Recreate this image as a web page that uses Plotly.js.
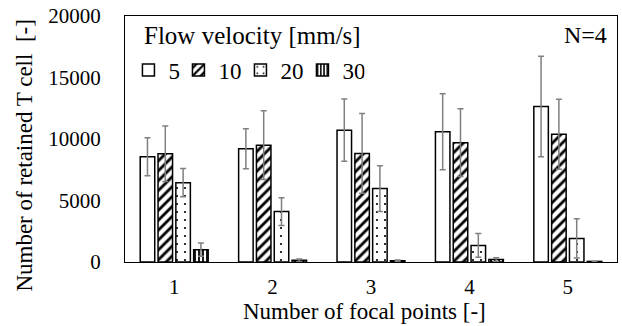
<!DOCTYPE html>
<html>
<head>
<meta charset="utf-8">
<script src="https://cdn.plot.ly/plotly-3.0.1.min.js"></script>
<style>html,body{margin:0;padding:0;background:#fff;}#chart{width:622px;height:326px;}</style>
</head>
<body>
<div id="chart"></div>
<script>
// Data
const categories = ['1', '2', '3', '4', '5'];
const seriesNames = ['5', '10', '20', '30'];
const v5  = [8560, 9210, 10720, 10590, 12640];
const e5  = [1550, 1630, 2530, 3080, 4090];
const v10 = [8800, 9500, 8830, 9700, 10390];
const e10 = [2250, 2800, 3240, 2750, 2850];
const v20 = [6450, 4100, 5970, 1350, 1920];
const e20 = [1150, 1130, 1860, 960, 1600];
const v30 = [1000, 150, 100, 200, 50];
const e30 = [540, 100, 60, 150, 0];

const FONT = 'Liberation Serif, Times New Roman, serif';

const patterns = [
  {shape: ''},
  {shape: '/', fgcolor: '#000', bgcolor: '#fff', size: 7, solidity: 0.4},
  {shape: '.', fgcolor: '#000', bgcolor: '#fff', size: 8, solidity: 0.06},
  {shape: '|', fgcolor: '#000', bgcolor: '#fff', size: 4, solidity: 0.45}
];
const legendWidths = [5, 17, 17, 17];
const vals = [v5, v10, v20, v30];
const errs = [e5, e10, e20, e30];

const traces = vals.map((v, i) => ({
  type: 'bar',
  name: seriesNames[i],
  x: categories,
  y: v,
  legendwidth: legendWidths[i],
  error_y: {type: 'data', array: errs[i], visible: true, color: '#808080', thickness: 1.5, width: 3},
  marker: {color: '#fff', line: {color: '#000', width: 1.5}, pattern: patterns[i]}
}));

const layout = {
  width: 622, height: 326,
  margin: {l: 125, r: 5, t: 16, b: 64},
  paper_bgcolor: '#fff', plot_bgcolor: '#fff',
  font: {family: FONT, size: 21, color: '#000'},
  barmode: 'group',
  bargap: 0.276,
  bargroupgap: 0.185,
  showlegend: true,
  legend: {
    orientation: 'h',
    x: 0.007, xanchor: 'left',
    y: 0.780, yanchor: 'middle',
    bgcolor: 'rgba(0,0,0,0)',
    font: {family: FONT, size: 23, color: '#000'},
    traceorder: 'normal'
  },
  xaxis: {
    type: 'category',
    showline: true, linecolor: '#000', linewidth: 1, mirror: true,
    ticks: 'outside', ticklen: 6, tickcolor: 'rgba(0,0,0,0)',
    tickfont: {family: FONT, size: 21},
    showgrid: false, zeroline: false
  },
  yaxis: {
    range: [0, 20000], dtick: 5000, tick0: 0, tickformat: 'd',
    showline: true, linecolor: '#000', linewidth: 1, mirror: true,
    ticks: 'outside', ticklen: 19, tickcolor: 'rgba(0,0,0,0)',
    tickfont: {family: FONT, size: 21},
    showgrid: false, zeroline: false
  },
  annotations: [
    {text: 'Number of retained T cell  [-]', textangle: -90, xref: 'paper', yref: 'paper',
     x: -0.204, y: 0.435, xanchor: 'center', yanchor: 'middle', showarrow: false,
     font: {family: FONT, size: 23, color: '#000'}},
    {text: 'Number of focal points [-]', xref: 'paper', yref: 'paper',
     x: 0.486, y: -0.202, xanchor: 'center', yanchor: 'middle', showarrow: false,
     font: {family: FONT, size: 23, color: '#000'}},
    {text: 'Flow velocity [mm/s]', xref: 'paper', yref: 'paper',
     x: 0.0346, y: 0.9187, xanchor: 'left', yanchor: 'middle', showarrow: false,
     font: {family: FONT, size: 25, color: '#000'}},
    {text: 'N=4', xref: 'paper', yref: 'paper', x: 0.984, y: 0.923, xanchor: 'right', yanchor: 'middle',
     showarrow: false, font: {family: FONT, size: 24, color: '#000'}}
  ]
};

Plotly.newPlot('chart', traces, layout, {displayModeBar: false, staticPlot: true});
</script>
</body>
</html>
